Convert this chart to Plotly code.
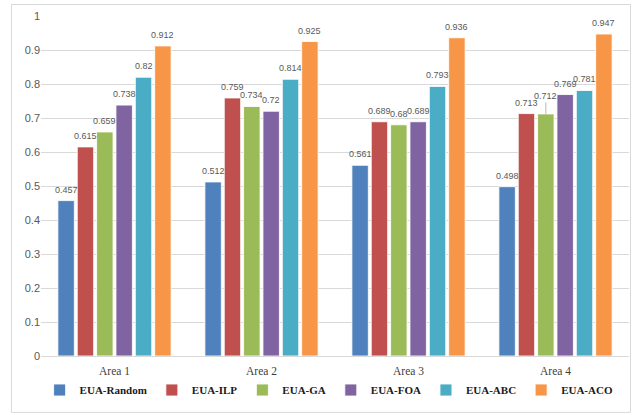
import plotly.graph_objects as go

areas = ["Area 1", "Area 2", "Area 3", "Area 4"]
methods = ["EUA-Random", "EUA-ILP", "EUA-GA", "EUA-FOA", "EUA-ABC", "EUA-ACO"]
colors = ["#4F81BD", "#C0504D", "#9BBB59", "#8064A2", "#4BACC6", "#F79646"]

eua_random = [0.457, 0.512, 0.561, 0.498]
eua_ilp = [0.615, 0.759, 0.689, 0.713]
eua_ga = [0.659, 0.734, 0.68, 0.712]
eua_foa = [0.738, 0.72, 0.689, 0.769]
eua_abc = [0.82, 0.814, 0.793, 0.781]
eua_aco = [0.912, 0.925, 0.936, 0.947]

series = [eua_random, eua_ilp, eua_ga, eua_foa, eua_abc, eua_aco]

BARGAP = 0.21
GROUPGAP = 0.15
LABEL_FONT = dict(family="Liberation Sans", size=9, color="#595959")

fig = go.Figure()
for name, vals, col in zip(methods, series, colors):
    fig.add_trace(go.Bar(
        name=name, x=areas, y=vals,
        marker=dict(color=col, line=dict(color="rgba(255,255,255,0.85)", width=1)),
    ))

# value labels above each bar, centred on its slot within the group
n = len(methods)
slot = (1 - BARGAP) / n
for j, vals in enumerate(series):
    for i, v in enumerate(vals):
        xpos = i + (j - (n - 1) / 2) * slot
        if methods[j] == "EUA-GA" and i == 3:
            # lifted above its neighbours with a leader line
            fig.add_annotation(
                x=xpos, y=v, xref="x", yref="y", text=f"{v:g}",
                showarrow=True, arrowhead=0, arrowwidth=0.8, arrowcolor="#A6A6A6",
                ax=0, ay=-18, standoff=0, font=LABEL_FONT,
            )
        else:
            fig.add_annotation(
                x=xpos, y=v, xref="x", yref="y", text=f"{v:g}",
                showarrow=False, yanchor="bottom", yshift=4, font=LABEL_FONT,
            )

# outer chart frame
fig.add_shape(type="rect", xref="paper", yref="paper",
              x0=-0.0502, x1=1.0026, y0=-0.166, y1=1.0338,
              line=dict(color="#D9D9D9", width=1), fillcolor="rgba(0,0,0,0)")

fig.update_layout(
    width=639, height=415,
    margin=dict(l=41, r=10, t=16, b=59),
    paper_bgcolor="white", plot_bgcolor="white",
    barmode="group", bargap=BARGAP, bargroupgap=GROUPGAP,
    showlegend=True,
    legend=dict(orientation="h", x=0.49, xanchor="center", y=-0.1, yanchor="middle",
                bgcolor="rgba(0,0,0,0)",
                font=dict(family="Liberation Serif", size=11, color="#1a1a1a", weight="bold"),
                itemwidth=30, traceorder="normal"),
    xaxis=dict(showgrid=False, showline=True, linecolor="#D9D9D9", linewidth=1,
               ticks="", ticklabelstandoff=4,
               tickfont=dict(family="Liberation Serif", size=11.5, color="#404040")),
    yaxis=dict(range=[0, 1], dtick=0.1, showgrid=True, gridcolor="#D9D9D9", gridwidth=1,
               zeroline=False, showline=False, ticks="",
               tickfont=dict(family="Liberation Sans", size=11, color="#595959")),
)

fig.write_html("out.html")
